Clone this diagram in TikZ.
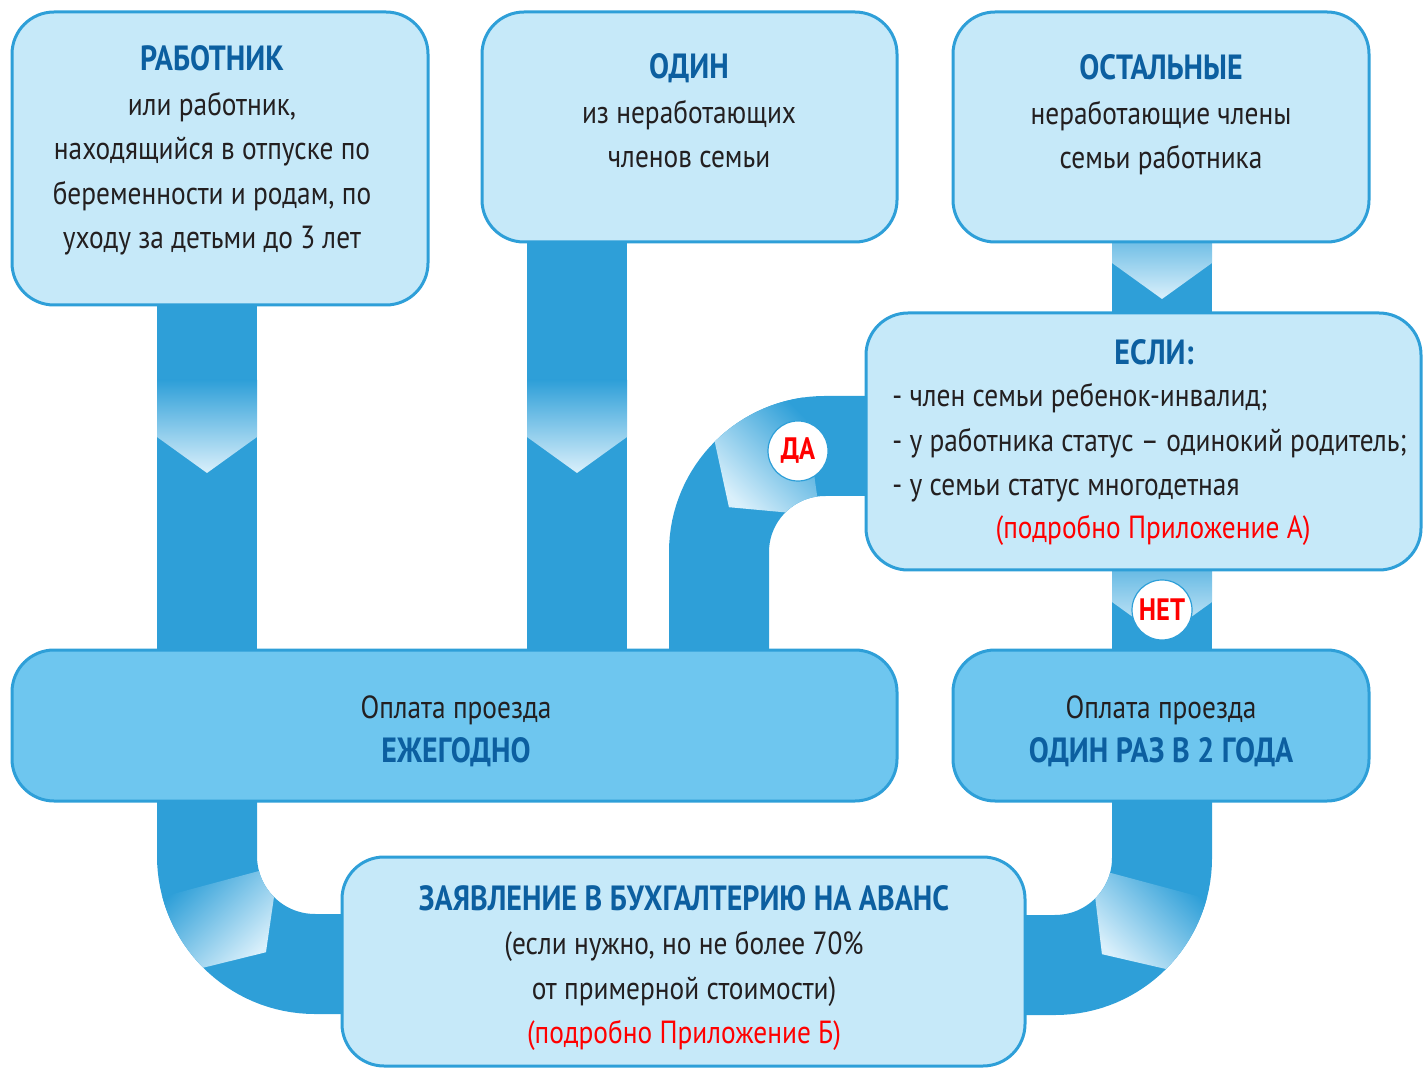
\documentclass[tikz,border=0pt]{standalone}
\usepackage{fontspec}
\setmainfont[FakeStretch=0.855]{PT Sans}
\usepackage{tikz}
\definecolor{pipeblue}{HTML}{2E9FD8}
\definecolor{boxlight}{HTML}{C6E9F9}
\definecolor{boxmid}{HTML}{6EC6EF}
\definecolor{headblue}{HTML}{0C5FA0}
\definecolor{textgray}{HTML}{231F20}
\definecolor{tiplight}{HTML}{DAF0FB}
\newcommand{\boxhead}[1]{{\color{headblue}\bfseries\fontsize{17.5}{22}\selectfont #1}}

\begin{document}
\begin{tikzpicture}[
    x=0.5pt, y=-0.5pt,
    pipe/.style={pipeblue,line width=50pt},
    tip/.style={top color=pipeblue,bottom color=tiplight},
    box/.style={draw=pipeblue,line width=1.5pt,fill=boxlight,rounded corners=21pt},
    paybox/.style={box,fill=boxmid},
    txt/.style={text=textgray,font=\fontsize{16}{22.2}\selectfont,align=center,inner sep=0pt},
    badge/.style={circle,fill=white,draw=pipeblue,line width=0.6pt,minimum size=30pt,inner sep=0pt,
      text=red,font=\bfseries\fontsize{15.5}{15.5}\selectfont}
    ]
    \useasboundingbox (0,0) rectangle (1423,1068);
    \draw[pipe] (207,300) -- (207,655);
    \draw[pipe] (577,240) -- (577,655);
    \draw[pipe] (1162,240) -- (1162,318);
    \draw[pipe] (1162,565) -- (1162,655);
    \draw[pipe] (870,446) -- (825,446) arc[start angle=270,end angle=180,radius=106] -- (719,655);
    \draw[pipe] (207,795) -- (207,856) arc[start angle=180,end angle=90,radius=108] -- (350,964);
    \draw[pipe] (1162,795) -- (1162,858) arc[start angle=0,end angle=90,radius=107] -- (1020,965);
    \shade[tip] (157,380) -- (257,380) -- (257,437) -- (207,473) -- (157,437) -- cycle;
    \shade[tip] (527,380) -- (627,380) -- (627,437) -- (577,473) -- (527,437) -- cycle;
    \shade[tip] (1112,205) -- (1212,205) -- (1212,263) -- (1162,299) -- (1112,263) -- cycle;
    \shade[tip] (1112,535) -- (1212,535) -- (1212,602) -- (1162,638) -- (1112,602) -- cycle;
    \begin{scope}[shift={(825,552)}]
      \shade[tip,shading angle=-45] (262:156) arc[start angle=262,end angle=225,radius=156]
        -- (205:106) -- (225:56) arc[start angle=225,end angle=262,radius=56] -- cycle;
    \end{scope}
    \begin{scope}[shift={(315,856)}]
      \shade[tip,shading angle=45] (165:158) arc[start angle=165,end angle=135,radius=158]
        -- (117:108) -- (135:58) arc[start angle=135,end angle=165,radius=58] -- cycle;
    \end{scope}
    \begin{scope}[shift={(1055,858)}]
      \shade[tip,shading angle=-45] (15:157) arc[start angle=15,end angle=45,radius=157]
        -- (64:107) -- (45:57) arc[start angle=45,end angle=15,radius=57] -- cycle;
    \end{scope}
    \node[box,minimum width=208pt,minimum height=146.5pt] (worker) at (220,158.5) {};
    \node[box,minimum width=207.5pt,minimum height=115pt] (one) at (689.5,127) {};
    \node[box,minimum width=208pt,minimum height=115pt] (others) at (1161,127) {};
    \node[box,minimum width=277.5pt,minimum height=128.5pt] (cond) at (1143.5,441.5) {};
    \node[paybox,minimum width=442.5pt,minimum height=75.5pt] (yearly) at (454.5,725.5) {};
    \node[paybox,minimum width=208pt,minimum height=75.5pt] (biennial) at (1161,725.5) {};
    \node[box,minimum width=341.5pt,minimum height=104.5pt] (claim) at (683.5,961.5) {};
    \node[txt] (worker-t) at (212,150.5) {\boxhead{РАБОТНИК}\\или работник,\\находящийся в отпуске по\\беременности и родам, по\\уходу за детьми до 3 лет};
    \node[txt] (one-t) at (689,111) {\boxhead{ОДИН}\\из неработающих\\членов семьи};
    \node[txt] (others-t) at (1161,115) {\boxhead{ОСТАЛЬНЫЕ}\\неработающие члены\\семьи работника};
    \node[txt] (cond-t) at (1154,352) {\boxhead{ЕСЛИ:}};
    \node[txt,align=left,anchor=west] (cond-list) at (892,443) {- член семьи ребенок-инвалид;\\- у работника статус – одинокий родитель;\\- у семьи статус многодетная};
    \node[txt,text=red] (cond-ref) at (1153,530) {(подробно Приложение А)};
    \node[txt] (yearly-t) at (456,731) {Оплата проезда\\\boxhead{ЕЖЕГОДНО}};
    \node[txt] (biennial-t) at (1161,731) {Оплата проезда\\\boxhead{ОДИН РАЗ В 2 ГОДА}};
    \node[txt] (claim-t) at (684,968) {\boxhead{ЗАЯВЛЕНИЕ В БУХГАЛТЕРИЮ НА АВАНС}\\(если нужно, но не более 70\%\\от примерной стоимости)\\\textcolor{red}{(подробно Приложение Б)}};
    \node[badge] (yes) at (798,451) {ДА};
    \node[badge] (no) at (1162,610) {НЕТ};
  \end{tikzpicture}
\end{document}
